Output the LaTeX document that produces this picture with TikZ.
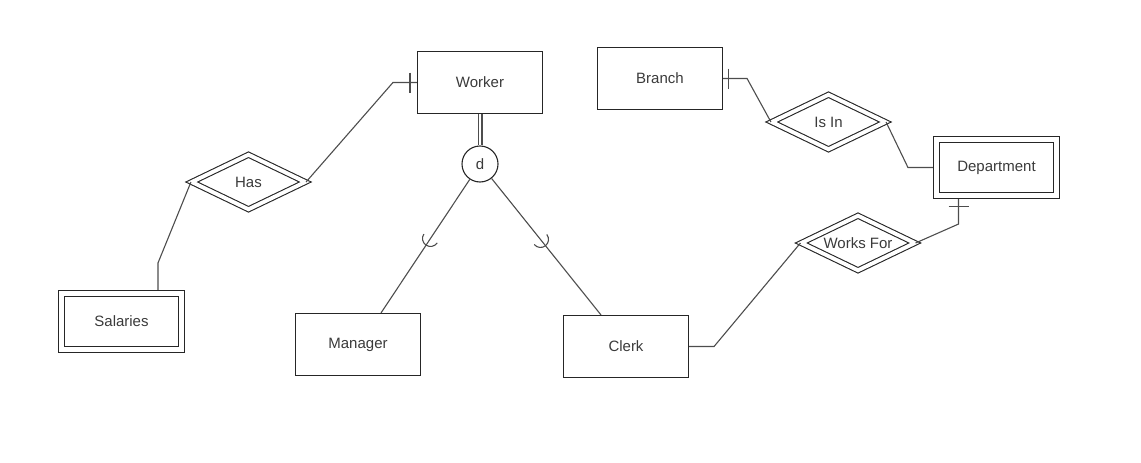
\documentclass[tikz,border=0pt]{standalone}
\usepackage{fontspec}
\setmainfont{Liberation Sans}
\usetikzlibrary{calc,shapes.geometric}
\definecolor{linec}{HTML}{262626}
\definecolor{connc}{HTML}{4D4D4D}
\definecolor{textc}{HTML}{3A3A3A}
\begin{document}
\begin{tikzpicture}[x=1pt,y=-1pt,
  ent/.style={draw=linec, line width=1.1pt, minimum width=125pt, minimum height=62pt, inner sep=0pt, font=\fontsize{15}{17}\selectfont, text=textc},
  weakent/.style={ent, double=white, double distance=4.9pt, minimum width=120pt, minimum height=56pt},
  rel/.style={diamond, aspect=2, draw=linec, line width=1.1pt, double=white, double distance=3.9pt, minimum width=114pt, minimum height=55pt, inner sep=0pt, font=\fontsize{15}{17}\selectfont, text=textc},
  disj/.style={circle, draw=linec, line width=1.1pt, minimum size=36pt, inner sep=0pt, font=\fontsize{15}{17}\selectfont, text=textc},
  conn/.style={draw=connc, line width=1.1pt},
]
\useasboundingbox (0,0) rectangle (1141,463);

% entities
\node[ent] (wk) at (480,82.5) {Worker};
\node[ent] (br) at (660,78.5) {Branch};
\node[weakent] (dep) at (996.5,167.5) {Department};
\node[weakent] (sal) at (121.5,321.5) {Salaries};
\node[ent] (mgr) at (358,344.5) {Manager};
\node[ent] (clk) at (626,346.5) {Clerk};

% relationships
\node[rel] (has) at (248.5,182) {Has};
\node[rel] (isin) at (828.5,122) {Is In};
\node[rel] (wf) at (858,243) {Works For};

% disjoint circle
\node[disj] (d) at (480,164) {d};

% Worker - d (total participation)
\draw[conn, double=white, double distance=2.8pt] (wk.south) -- (d.north);

% d - subclasses
\coordinate (mgrend) at ($(mgr.north)+(23,0)$);
\coordinate (clkend) at ($(clk.north)+(-25,0)$);
\draw[conn] (d) -- (mgrend);
\draw[conn] (d) -- (clkend);
\coordinate (sl) at ($(d.center)!0.5!(mgrend)$);
\coordinate (sr) at ($(d.center)!0.5!(clkend)$);
\draw[conn] ([shift={(33.6:8)}]sl) arc[start angle=33.6, end angle=213.6, radius=8];
\draw[conn] ([shift={(-38.7:8)}]sr) arc[start angle=-38.7, end angle=141.3, radius=8];

% Worker - Has - Salaries
\coordinate (wkb) at ($(wk.west)+(-24,0)$);
\draw[conn] (wk.west) -- (wkb) -- (has.east);
\draw[conn] ($(wk.west)+(-7,-10)$) -- ($(wk.west)+(-7,10)$);
\coordinate (salb) at ($(sal.north)+(36.5,-30)$);
\draw[conn] (has.west) -- (salb) -- ($(sal.north)+(36.5,-3)$);

% Branch - Is In - Department
\coordinate (brb) at ($(br.east)+(24,0)$);
\draw[conn] (br.east) -- (brb) -- (isin.west);
\draw[conn] ($(br.east)+(5,-10)$) -- ($(br.east)+(5,10)$);
\coordinate (depb) at ($(dep.west)+(-28,0)$);
\draw[conn] (isin.east) -- (depb) -- ($(dep.west)+(-3,0)$);

% Department - Works For - Clerk
\coordinate (depc) at ($(dep.south)+(-38,28)$);
\draw[conn] ($(dep.south)+(-38,3)$) -- (depc) -- (wf.east);
\draw[conn] ($(dep.south)+(-48,10)$) -- ($(dep.south)+(-28,10)$);
\coordinate (clkb) at ($(clk.east)+(25,0)$);
\draw[conn] (wf.west) -- (clkb) -- (clk.east);
\end{tikzpicture}
\end{document}
